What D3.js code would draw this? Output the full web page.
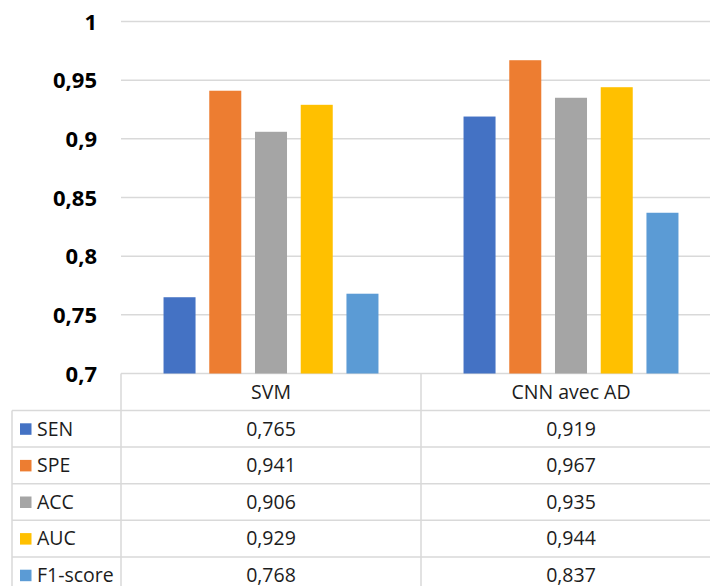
<!DOCTYPE html>
<html>
<head>
<meta charset="utf-8">
<script src="https://cdn.jsdelivr.net/npm/d3@7"></script>
<style>
  html, body { margin: 0; padding: 0; background: #fff; }
  svg { display: block; }
</style>
</head>
<body>
<svg id="chart" width="710" height="586"></svg>
<script>
const categories = ["SVM", "CNN avec AD"];
const metrics = ["SEN", "SPE", "ACC", "AUC", "F1-score"];
const svmValues = [0.765, 0.941, 0.906, 0.929, 0.768];
const cnnValues = [0.919, 0.967, 0.935, 0.944, 0.837];
const yTicks = [0.7, 0.75, 0.8, 0.85, 0.9, 0.95, 1];
const colors = ["#4472C4", "#ED7D31", "#A5A5A5", "#FFC000", "#5B9BD5"];

const seriesByCategory = { "SVM": svmValues, "CNN avec AD": cnnValues };

const locale = d3.formatLocale({ decimal: ",", thousands: " ", grouping: [3], currency: ["", "€"] });
const fmtTick = locale.format("~g");
const fmtVal = locale.format(".3f");

const svg = d3.select("#chart");
const FONT = "'Open Sans', 'DejaVu Sans', sans-serif";
const gridColor = "#d9d9d9";
const textColor = "#1c1c1c";

const plotLeft = 121, plotRight = 721;
const plotTop = 21.5, plotBottom = 373.5;

const y = d3.scaleLinear().domain([0.7, 1]).range([plotBottom, plotTop]);
const x0 = d3.scaleBand().domain(categories).range([plotLeft, plotRight]).padding(0);
const x1 = d3.scaleBand().domain(metrics).range([0, x0.bandwidth()]).paddingInner(0.3).paddingOuter(0.93);

// gridlines
svg.append("g").selectAll("line").data(yTicks).join("line")
  .attr("x1", plotLeft).attr("x2", 710)
  .attr("y1", d => y(d)).attr("y2", d => y(d))
  .attr("stroke", gridColor).attr("stroke-width", 1.5);

// y axis labels
const yAxis = d3.axisLeft(y).tickValues(yTicks).tickFormat(fmtTick).tickSize(0).tickPadding(0);
const ya = svg.append("g").attr("transform", `translate(97,0)`).call(yAxis);
ya.select(".domain").remove();
ya.selectAll("text")
  .attr("font-family", FONT).attr("font-size", 22).attr("font-weight", "bold")
  .attr("fill", "#000").attr("dy", "0.35em");

// bars
const groups = svg.append("g").selectAll("g").data(categories).join("g")
  .attr("transform", d => `translate(${x0(d)},0)`);
groups.selectAll("rect")
  .data(c => metrics.map((m, i) => ({ m, i, v: seriesByCategory[c][i] })))
  .join("rect")
  .attr("x", d => x1(d.m))
  .attr("width", x1.bandwidth())
  .attr("y", d => y(d.v))
  .attr("height", d => y(0.7) - y(d.v))
  .attr("fill", d => colors[d.i]);

// data table
const tableLeft = 12;
const headerTop = plotBottom;
const headerH = 37;
const rowH = 36.6;
const tbl = svg.append("g");
const lineAttrs = sel => sel.attr("stroke", gridColor).attr("stroke-width", 1.5);

const rowTops = metrics.map((m, i) => headerTop + headerH + i * rowH);
tbl.selectAll("line.h").data(rowTops.concat([headerTop + headerH + metrics.length * rowH])).join("line")
  .attr("x1", tableLeft).attr("x2", 710)
  .attr("y1", d => d).attr("y2", d => d).call(lineAttrs);

tbl.append("line").attr("x1", tableLeft).attr("x2", tableLeft)
  .attr("y1", headerTop + headerH).attr("y2", 600).call(lineAttrs);
[plotLeft, x0("CNN avec AD")].forEach(xv => {
  tbl.append("line").attr("x1", xv).attr("x2", xv)
    .attr("y1", headerTop).attr("y2", 600).call(lineAttrs);
});

const TFS = 19.5;
tbl.selectAll("text.hdr").data(categories).join("text")
  .attr("x", d => x0(d) + x0.bandwidth() / 2)
  .attr("y", headerTop + headerH / 2)
  .attr("dy", "0.35em").attr("text-anchor", "middle")
  .attr("font-family", FONT).attr("font-size", TFS).attr("fill", textColor)
  .text(d => d);

metrics.forEach((m, i) => {
  const cy = rowTops[i] + rowH / 2;
  tbl.append("rect").attr("x", 20).attr("y", cy - 5.5).attr("width", 11.5).attr("height", 11.5)
    .attr("fill", colors[i]);
  tbl.append("text").attr("x", 37).attr("y", cy).attr("dy", "0.35em")
    .attr("font-family", FONT).attr("font-size", TFS).attr("fill", textColor)
    .text(m);
  categories.forEach(c => {
    tbl.append("text").attr("x", x0(c) + x0.bandwidth() / 2).attr("y", cy).attr("dy", "0.35em")
      .attr("text-anchor", "middle")
      .attr("font-family", FONT).attr("font-size", TFS).attr("fill", textColor)
      .text(fmtVal(seriesByCategory[c][i]));
  });
});
</script>
</body>
</html>
